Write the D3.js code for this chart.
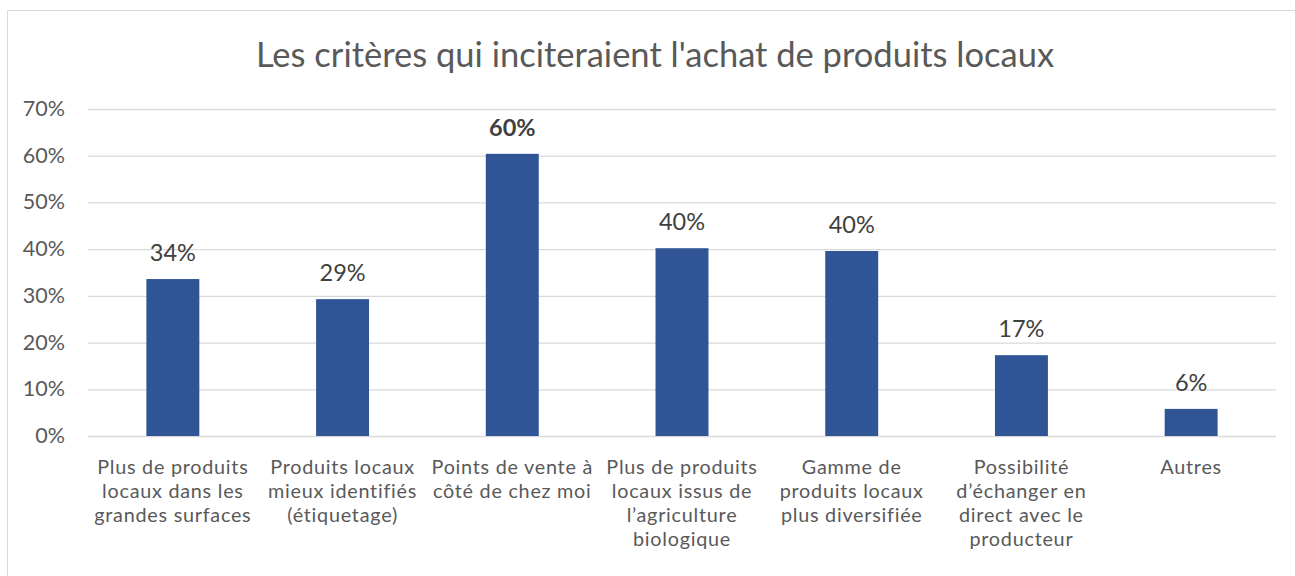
<!DOCTYPE html>
<html><head><meta charset="utf-8">
<script src="https://cdn.jsdelivr.net/npm/d3@7"></script>
<style>body{margin:0;background:#fff}svg{display:block}text{font-family:Lato,"Open Sans",sans-serif}</style>
</head><body>
<script>
const categories = [
  ["Plus de produits","locaux dans les","grandes surfaces"],
  ["Produits locaux","mieux identifiés","(étiquetage)"],
  ["Points de vente à","côté de chez moi"],
  ["Plus de produits","locaux issus de","l’agriculture","biologique"],
  ["Gamme de","produits locaux","plus diversifiée"],
  ["Possibilité","d’échanger en","direct avec le","producteur"],
  ["Autres"]
];
const values = [0.336, 0.293, 0.604, 0.402, 0.396, 0.173, 0.058];
const valueLabels = ["34%","29%","60%","40%","40%","17%","6%"];
const boldLabel = [false,false,true,false,false,false,false];
const yTicks = [0,0.1,0.2,0.3,0.4,0.5,0.6,0.7];
const title = "Les critères qui inciteraient l'achat de produits locaux";

const W=1295,H=576;
const svg=d3.select("body").append("svg").attr("width",W).attr("height",H);
svg.append("rect").attr("x",7.5).attr("y",10.5).attr("width",W+10).attr("height",H+10)
  .attr("fill","#fff").attr("stroke","#D9D9D9").attr("stroke-width",1);

const pL=88,pR=1276,pT=109,pB=436;
const x=d3.scaleBand().domain(d3.range(categories.length)).range([pL,pR]).paddingInner(0.688).paddingOuter(0.344);
const y=d3.scaleLinear().domain([0,0.7]).range([pB,pT]);

svg.append("text").attr("x",655).attr("y",67).attr("text-anchor","middle")
  .attr("font-size",34.5).attr("fill","#595959").text(title);

const yAxis=d3.axisLeft(y).tickValues(yTicks).tickFormat(d3.format(".0%")).tickSize(0).tickPadding(23);
const gy=svg.append("g").attr("transform",`translate(${pL},0)`).call(yAxis);
gy.select(".domain").remove();
gy.selectAll(".tick line").attr("stroke","#D9D9D9").attr("stroke-width",1.3).attr("x1",0).attr("x2",pR-pL);
gy.selectAll(".tick text").attr("fill","#595959").attr("font-size",21.5).attr("font-family","Lato").attr("dy","0.3em");

svg.append("g").selectAll("rect").data(values).join("rect")
  .attr("x",(d,i)=>x(i)).attr("width",x.bandwidth())
  .attr("y",d=>y(d)).attr("height",d=>y(0)-y(d)).attr("fill","#2F5597");

svg.append("g").selectAll("text").data(values).join("text")
  .attr("x",(d,i)=>x(i)+x.bandwidth()/2).attr("y",d=>y(d)-18)
  .attr("text-anchor","middle").attr("font-size",23.5).attr("fill","#404040")
  .attr("font-weight",(d,i)=>boldLabel[i]?"bold":"normal")
  .text((d,i)=>valueLabels[i]);

const gx=svg.append("g");
categories.forEach((lines,i)=>{
  const t=gx.append("text").attr("text-anchor","middle").attr("font-size",19.8).attr("letter-spacing","0.75px").attr("fill","#595959");
  lines.forEach((l,j)=>t.append("tspan").attr("x",x(i)+x.bandwidth()/2).attr("y",474+j*24).text(l));
});
</script>
</body></html>
